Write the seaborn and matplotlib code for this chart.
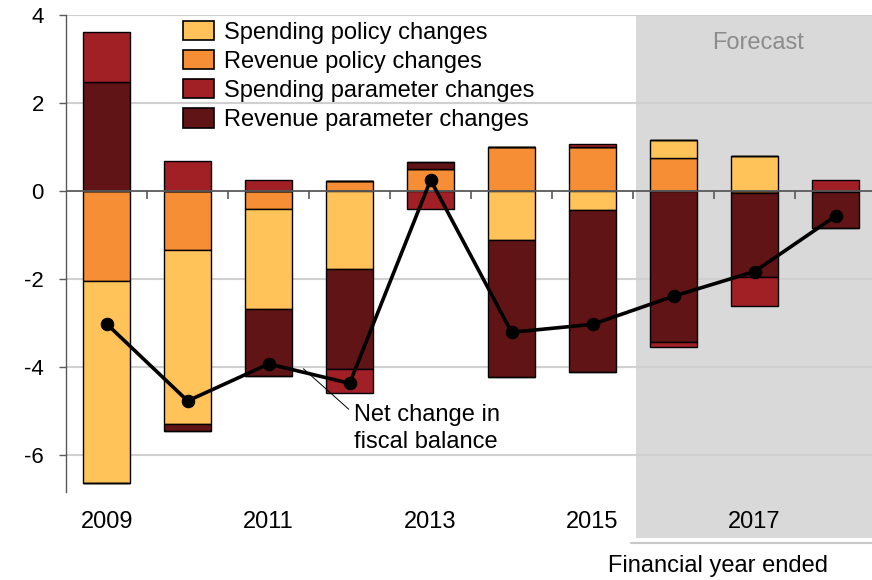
import numpy as np
import pandas as pd
import matplotlib
matplotlib.use("Agg")
import matplotlib.pyplot as plt
import matplotlib.transforms as mtransforms
from matplotlib.patches import Rectangle, Patch
import seaborn as sns

# ---- data ----
years = [2009, 2010, 2011, 2012, 2013, 2014, 2015, 2016, 2017, 2018]
revenue_policy = [-2.05, -1.34, -0.40, 0.23, 0.49, 1.01, 1.00, 0.74, -0.04, 0.00]
spending_policy = [-4.59, -3.96, -2.27, -1.77, 0.00, -1.11, -0.43, 0.41, 0.80, -0.03]
revenue_param = [2.48, -0.15, -1.53, -2.28, 0.16, -3.11, -3.68, -3.42, -1.91, -0.80]
spending_param = [1.13, 0.68, 0.25, -0.55, -0.41, 0.00, 0.07, -0.12, -0.66, 0.25]
net_change = [-3.02, -4.77, -3.93, -4.37, 0.25, -3.21, -3.03, -2.39, -1.83, -0.57]
xtick_labels = ["2009", "2011", "2013", "2015", "2017"]
ytick_values = [4, 2, 0, -2, -4, -6]
forecast_start = 2015.54

series_names = ["Spending policy changes", "Revenue policy changes",
                "Spending parameter changes", "Revenue parameter changes"]
colors = {"Spending policy changes": "#FFC35A",
          "Revenue policy changes": "#F58E34",
          "Spending parameter changes": "#A02026",
          "Revenue parameter changes": "#611416"}
# stacking order used in the chart (closest to zero first)
stack_order = [("Revenue policy changes", revenue_policy),
               ("Spending policy changes", spending_policy),
               ("Revenue parameter changes", revenue_param),
               ("Spending parameter changes", spending_param)]

sns.set_theme(style="white")
plt.rcParams["font.family"] = ["Liberation Sans", "DejaVu Sans"]
plt.rcParams["axes.unicode_minus"] = False
plt.rcParams["text.color"] = "black"
plt.rcParams["xtick.color"] = "black"
plt.rcParams["ytick.color"] = "black"
FS = 17

fig = plt.figure(figsize=(8.72, 5.80), dpi=100)
ax = fig.add_axes([66 / 872, 1 - 492 / 580, 1 - 66 / 872, (492 - 15) / 580])

XMIN, XMAX = 2008.498, 2018.45

# forecast shading (extends below axis over tick labels)
blend = mtransforms.blended_transform_factory(ax.transData, ax.transAxes)
ax.add_patch(Rectangle((forecast_start, -0.096), XMAX - forecast_start + 0.1, 1.096,
                       transform=blend, facecolor="#D9D9D9", edgecolor="none",
                       clip_on=False, zorder=0))
ax.plot([forecast_start - 0.07, XMAX + 0.1], [-0.107, -0.107], transform=blend,
        color="#C8C8C8", lw=1.5, clip_on=False, zorder=0)

# gridlines
for v in ytick_values:
    if v != 0:
        ax.axhline(v, color="#D0D0D0", lw=1.5, zorder=0.5)

# stacked bars
x = np.array(years, dtype=float)
pos_bottom = np.zeros(len(years))
neg_bottom = np.zeros(len(years))
for name, vals in stack_order:
    vals = np.array(vals)
    pos = np.where(vals > 0, vals, 0)
    neg = np.where(vals < 0, vals, 0)
    ax.bar(x, pos, bottom=pos_bottom, width=0.575, color=colors[name],
           edgecolor="black", linewidth=1.0, zorder=2)
    ax.bar(x, neg, bottom=neg_bottom, width=0.575, color=colors[name],
           edgecolor="black", linewidth=1.0, zorder=2)
    pos_bottom += pos
    neg_bottom += neg

# zero line and in-between ticks
ax.axhline(0, color="#595959", lw=1.3, zorder=3)
mid = x[:-1] + 0.5
ax.plot(mid, np.zeros(len(mid)), linestyle="none", marker=3, markersize=6,
        markeredgewidth=1.2, color="#595959", zorder=3)

# net change line
df = pd.DataFrame({"year": years, "net": net_change})
sns.lineplot(data=df, x="year", y="net", color="black", lw=2.6, marker="o",
             markersize=9, markeredgecolor="black", ax=ax, zorder=5)

# annotation
ax.plot([2011.43, 2011.99], [-4.04, -4.96], color="black", lw=0.7, zorder=4)
ax.text(2012.06, -4.84, "Net change in\nfiscal balance", ha="left", va="top",
        fontsize=FS, linespacing=1.3, color="black", zorder=6)

ax.text(2017.04, 3.37, "Forecast", ha="center", va="center", fontsize=FS,
        color="#8C8C8C", zorder=6)

fig.text(718 / 872, 1 - 566 / 580, "Financial year ended", ha="center",
         va="center", fontsize=FS, color="black")

# axes styling
ax.set_xlim(XMIN, XMAX)
ax.set_ylim(-6.84, 4.0)
ax.set_yticks(ytick_values)
ax.set_yticklabels([str(v) for v in ytick_values])
ax.set_xticks([int(t) for t in xtick_labels])
ax.set_xticklabels(xtick_labels)
ax.tick_params(axis="y", direction="out", length=5, width=1.0, color="#595959",
               labelsize=16, labelcolor="black", pad=11, left=True)
ax.tick_params(axis="x", length=0, labelsize=FS, labelcolor="black", pad=14)
ax.set_xlabel("")
ax.set_ylabel("")
for s in ["top", "right", "bottom"]:
    ax.spines[s].set_visible(False)
ax.spines["left"].set_color("#595959")
ax.spines["left"].set_linewidth(1.0)
ax.patch.set_alpha(0)

handles = [Patch(facecolor=colors[n], edgecolor="black", linewidth=1.2) for n in series_names]
leg = ax.legend(handles, series_names, loc="upper left", bbox_to_anchor=(0.145, 0.988),
                frameon=False, fontsize=FS, handlelength=1.3, handleheight=0.9,
                handletextpad=0.45, labelspacing=0.26, borderpad=0, borderaxespad=0)
for t in leg.get_texts():
    t.set_color("black")

fig.savefig("out.png", dpi=100)
